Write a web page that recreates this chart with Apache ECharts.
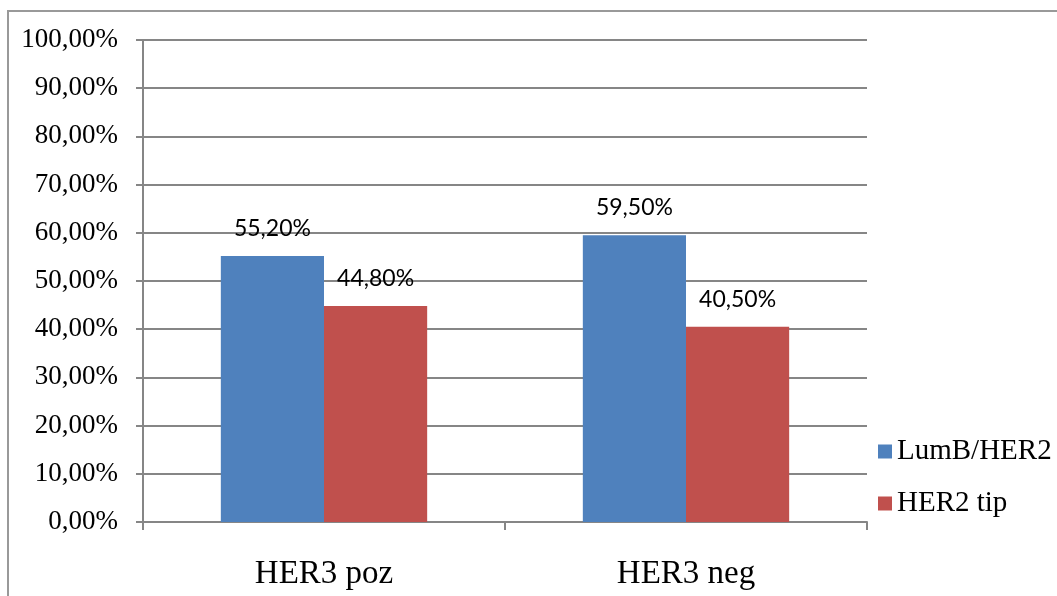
<!DOCTYPE html>
<html>
<head>
<meta charset="utf-8">
<script src="https://cdn.jsdelivr.net/npm/echarts@6/dist/echarts.min.js"></script>
<style>
  html, body { margin: 0; padding: 0; background: #fff; }
  #chart { width: 1057px; height: 596px; }
</style>
</head>
<body>
<div id="chart"></div>
<script>
const categories = ['HER3 poz', 'HER3 neg']
const lumbHer2 = [55.2, 59.5]
const her2Tip = [44.8, 40.5]
const seriesNames = ['LumB/HER2', 'HER2 tip']

const fmt = v => v.toFixed(2).replace('.', ',') + '%'
const axisGray = '#868686'

const myChart = echarts.init(document.getElementById('chart'))
const barLabel = {
  show: true,
  position: 'top',
  distance: 16,
  fontFamily: 'Lato',
  fontSize: 23,
  color: '#000',
  formatter: p => fmt(p.value)
}

myChart.setOption({
  animation: false,
  graphic: [{
    type: 'rect',
    shape: { x: 8, y: 11, width: 1200, height: 800 },
    style: { fill: 'none', stroke: '#999', lineWidth: 2 }
  }],
  legend: {
    orient: 'vertical',
    left: 873,
    top: 432,
    itemWidth: 14,
    itemHeight: 14,
    itemGap: 23,
    icon: 'rect',
    textStyle: { fontFamily: 'Liberation Serif', fontSize: 29, color: '#000' },
    data: seriesNames
  },
  grid: { left: 143, right: 1057 - 867, top: 40, bottom: 596 - 522 },
  xAxis: {
    type: 'category',
    data: categories,
    axisLine: { lineStyle: { color: axisGray, width: 2 } },
    axisTick: { show: true, length: 8, lineStyle: { color: axisGray, width: 2 } },
    axisLabel: { margin: 36, fontFamily: 'Liberation Serif', fontSize: 33, color: '#000' }
  },
  yAxis: {
    type: 'value',
    min: 0,
    max: 100,
    interval: 10,
    axisLine: { show: true, lineStyle: { color: axisGray, width: 2 } },
    axisTick: { show: true, length: 7, lineStyle: { color: axisGray, width: 2 } },
    splitLine: { lineStyle: { color: axisGray, width: 2 } },
    axisLabel: {
      margin: 25,
      fontFamily: 'Liberation Serif',
      fontSize: 27,
      color: '#000',
      formatter: v => fmt(v)
    }
  },
  series: [
    {
      name: seriesNames[0],
      type: 'bar',
      data: lumbHer2,
      barGap: '0%',
      barCategoryGap: '43%',
      itemStyle: { color: '#4F81BD' },
      label: barLabel
    },
    {
      name: seriesNames[1],
      type: 'bar',
      data: her2Tip,
      itemStyle: { color: '#C0504D' },
      label: barLabel
    }
  ]
})

window.addEventListener('resize', () => myChart.resize())
</script>
</body>
</html>
